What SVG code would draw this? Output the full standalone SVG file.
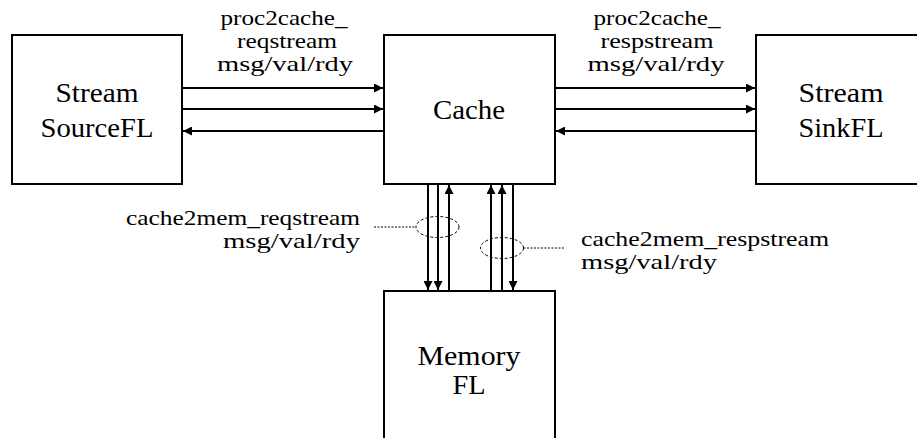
<svg xmlns="http://www.w3.org/2000/svg" width="917" height="438" viewBox="0 0 917 438">
<style>
.box{fill:#fff;stroke:#000;stroke-width:2}
.node{font-size:28px;fill:#000;text-anchor:middle}
.lbl{font-size:21px;fill:#000}
.w{stroke:#000;stroke-width:2;fill:none}
.lead{stroke:#000;stroke-width:1;fill:none;stroke-dasharray:2 1.5}
.ell{stroke:#000;stroke-width:1;fill:none;stroke-dasharray:3 2}
</style>
<defs>
<marker id="ah" viewBox="0 0 10 10" refX="10" refY="5" markerWidth="11" markerHeight="9" orient="auto" markerUnits="userSpaceOnUse">
<path d="M0,0 L10,5 L0,10 z" fill="#000"/>
</marker>
</defs>
<rect width="917" height="438" fill="#fff"/>
<g font-family="Liberation Serif, Times New Roman, Noto Serif, DejaVu Serif, serif">
<g id="source">
<rect class="box" x="12" y="35" width="170" height="149"/>
<text class="node" x="97" y="102" textLength="83" lengthAdjust="spacingAndGlyphs">Stream</text>
<text class="node" x="97" y="137" textLength="113" lengthAdjust="spacingAndGlyphs">SourceFL</text>
</g>
<g id="cache">
<rect class="box" x="384" y="35" width="171" height="149"/>
<text class="node" x="469" y="119" textLength="72" lengthAdjust="spacingAndGlyphs">Cache</text>
</g>
<g id="sink">
<rect class="box" x="756" y="35" width="170" height="149"/>
<text class="node" x="841" y="102" textLength="85" lengthAdjust="spacingAndGlyphs">Stream</text>
<text class="node" x="841" y="137" textLength="85" lengthAdjust="spacingAndGlyphs">SinkFL</text>
</g>
<g id="memory">
<rect class="box" x="384" y="291" width="171" height="160"/>
<text class="node" x="469" y="365" textLength="103" lengthAdjust="spacingAndGlyphs">Memory</text>
<text class="node" x="469" y="394" textLength="33" lengthAdjust="spacingAndGlyphs">FL</text>
</g>
<g id="connectors">
<line class="w" x1="183" y1="88" x2="383" y2="88" marker-end="url(#ah)"/>
<line class="w" x1="183" y1="109" x2="383" y2="109" marker-end="url(#ah)"/>
<line class="w" x1="383" y1="131" x2="183" y2="131" marker-end="url(#ah)"/>
<line class="w" x1="556" y1="88" x2="755" y2="88" marker-end="url(#ah)"/>
<line class="w" x1="556" y1="109" x2="755" y2="109" marker-end="url(#ah)"/>
<line class="w" x1="755" y1="131" x2="556" y2="131" marker-end="url(#ah)"/>
<line class="w" x1="428" y1="185" x2="428" y2="290" marker-end="url(#ah)"/>
<line class="w" x1="438" y1="185" x2="438" y2="290" marker-end="url(#ah)"/>
<line class="w" x1="449" y1="290" x2="449" y2="185" marker-end="url(#ah)"/>
<line class="w" x1="491" y1="290" x2="491" y2="185" marker-end="url(#ah)"/>
<line class="w" x1="502" y1="290" x2="502" y2="185" marker-end="url(#ah)"/>
<line class="w" x1="513" y1="185" x2="513" y2="290" marker-end="url(#ah)"/>
<ellipse class="ell" cx="437.5" cy="227" rx="21.5" ry="10.5"/>
<line class="lead" x1="374" y1="227" x2="416" y2="227"/>
<ellipse class="ell" cx="502" cy="248" rx="21.5" ry="10.5"/>
<line class="lead" x1="523.5" y1="248" x2="564" y2="248"/>
</g>
<g id="labels">
<text class="lbl" x="284" y="25" text-anchor="middle" textLength="127" lengthAdjust="spacingAndGlyphs">proc2cache_</text>
<text class="lbl" x="287" y="48" text-anchor="middle" textLength="100" lengthAdjust="spacingAndGlyphs">reqstream</text>
<text class="lbl" x="285" y="71" text-anchor="middle" textLength="136" lengthAdjust="spacingAndGlyphs">msg/val/rdy</text>
<text class="lbl" x="657" y="25" text-anchor="middle" textLength="127" lengthAdjust="spacingAndGlyphs">proc2cache_</text>
<text class="lbl" x="657" y="48" text-anchor="middle" textLength="113" lengthAdjust="spacingAndGlyphs">respstream</text>
<text class="lbl" x="656" y="71" text-anchor="middle" textLength="137" lengthAdjust="spacingAndGlyphs">msg/val/rdy</text>
<text class="lbl" x="360" y="225" text-anchor="end" textLength="234" lengthAdjust="spacingAndGlyphs">cache2mem_reqstream</text>
<text class="lbl" x="360" y="248" text-anchor="end" textLength="137" lengthAdjust="spacingAndGlyphs">msg/val/rdy</text>
<text class="lbl" x="581" y="246" textLength="248" lengthAdjust="spacingAndGlyphs">cache2mem_respstream</text>
<text class="lbl" x="581" y="269" textLength="136" lengthAdjust="spacingAndGlyphs">msg/val/rdy</text>
</g>
</g>
</svg>
